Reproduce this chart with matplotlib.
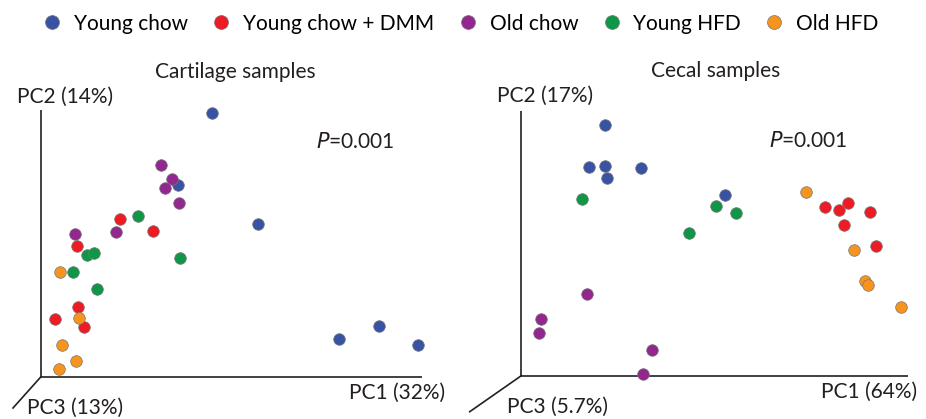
import matplotlib.pyplot as plt
from matplotlib.lines import Line2D

plt.rcParams["font.family"] = ["Lato", "DejaVu Sans"]

groups = ["Young chow", "Young chow + DMM", "Old chow", "Young HFD", "Old HFD"]
colors = ["#3953A4", "#ED1C24", "#92278F", "#0F9647", "#F7941D"]

# positions (x: along PC1, y: along PC2)
cart_x = {
    "Young chow": [171, 136.7, 216.7, 298.3, 338, 377],
    "Young chow + DMM": [79.3, 112, 35.7, 37, 14.3, 43],
    "Old chow": [119.7, 131, 124, 138, 34.3, 74.7],
    "Young HFD": [97.3, 46.3, 52.7, 139.3, 31.7, 55.7],
    "Old HFD": [19.3, 37.7, 21.3, 35.3, 18],
}
cart_y = {
    "Young chow": [263.4, 191.4, 152.4, 37.7, 50.4, 32],
    "Young chow + DMM": [158, 146, 130.7, 70, 58, 49.4],
    "Old chow": [211.7, 198, 188.7, 174, 143, 144.7],
    "Young HFD": [160.7, 121.7, 123.4, 118.4, 105, 88],
    "Old HFD": [105, 58.7, 31.7, 15.7, 7.4],
}
cecal_x = {
    "Young chow": [83.4, 67.7, 84, 85.7, 119.4, 203.7],
    "Young chow + DMM": [304, 317.7, 326.7, 349, 323, 355],
    "Old chow": [65.7, 19.7, 17.7, 130.4, 121.7],
    "Young HFD": [60.4, 194.4, 215, 167.4],
    "Old HFD": [285, 333, 344, 347, 379.4],
}
cecal_y = {
    "Young chow": [250.4, 209, 209.7, 197.7, 207.4, 180.4],
    "Young chow + DMM": [168.7, 165.7, 173, 163.4, 150.4, 129.7],
    "Old chow": [82, 56.4, 42.7, 26, 2],
    "Young HFD": [176.4, 170, 163, 142.7],
    "Old HFD": [183.7, 126, 94.7, 90.7, 68.7],
}

panels = [
    dict(title="Cartilage samples", pc1="PC1 (32%)", pc2="PC2 (14%)", pc3="PC3 (13%)",
         xs=cart_x, ys=cart_y, x0=41, y0=376.7, ax_len=(380.7, 266.7), diag=(-28, -31.3),
         pc1_x=404, p_x=275),
    dict(title="Cecal samples", pc1="PC1 (64%)", pc2="PC2 (17%)", pc3="PC3 (5.7%)",
         xs=cecal_x, ys=cecal_y, x0=521.3, y0=375.7, ax_len=(386.7, 265), diag=(-51.6, -36),
         pc1_x=396, p_x=248),
]

W, H = 926, 419
fig = plt.figure(figsize=(W / 100, H / 100), dpi=100)

for i, p in enumerate(panels):
    left = i * W / 2
    ax = fig.add_axes([left / W, 0, 0.5, (H - 40) / H])
    ax.set_xlim(left - p["x0"], left + W / 2 - p["x0"])
    ax.set_ylim(p["y0"] - H, p["y0"] - 40)
    ax.axis("off")

    lx, ly = p["ax_len"]
    ax.plot([0, 0], [0, ly], color="#231F20", lw=1.2, solid_capstyle="butt")
    ax.plot([0, lx], [0, 0], color="#231F20", lw=1.2, solid_capstyle="butt")
    ax.plot([0, p["diag"][0]], [0, p["diag"][1]], color="#231F20", lw=1.2)

    for g, c in zip(groups, colors):
        ax.scatter(p["xs"][g], p["ys"][g], s=70, color=c, edgecolor="#777777",
                   linewidth=0.5, zorder=3)

    ax.text(194, 305, p["title"], ha="center", va="center", fontsize=15, color="#231F20")
    ax.text(-24, 280, p["pc2"], ha="left", va="center", fontsize=15, color="#231F20")
    ax.text(p["pc1_x"], -16.5, p["pc1"], ha="right", va="center", fontsize=15, color="#231F20")
    ax.text(-14, -31, p["pc3"], ha="left", va="center", fontsize=15, color="#231F20")
    ax.text(p["p_x"], 235, "$\\mathit{P}$=0.001", ha="left", va="center",
            fontsize=15, color="#231F20")

handles = [Line2D([], [], marker="o", ls="", markersize=10, markerfacecolor=c,
                  markeredgecolor="#777777", markeredgewidth=0.5) for c in colors]
fig.legend(handles, groups, loc="upper center", bbox_to_anchor=(0.497, 1.012), ncol=5,
           frameon=False, fontsize=15, handlelength=1.0, handletextpad=0.55,
           columnspacing=1.1)

fig.savefig("out.png", dpi=100)
